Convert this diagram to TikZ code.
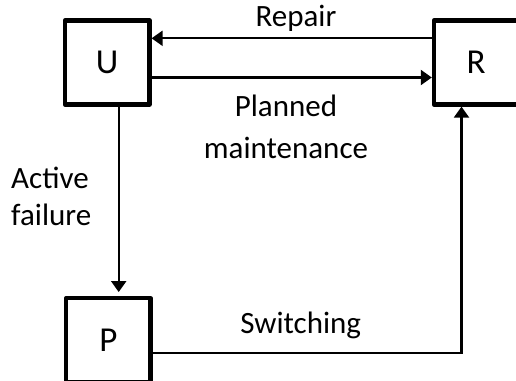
\documentclass[tikz,border=0pt]{standalone}
\usepackage{fontspec}
\setmainfont{Carlito}
\usetikzlibrary{arrows.meta}
\begin{document}
\begin{tikzpicture}[x=1bp,y=1bp,
  state/.style={draw, line width=4.3bp, minimum width=84.5bp, minimum height=84bp,
    inner sep=0pt, line join=round, font=\fontsize{35bp}{42bp}\selectfont},
  link/.style={line width=2.2bp, -{Triangle[length=11bp,width=15bp]}},
  lbl/.style={inner sep=0pt, font=\fontsize{31bp}{37bp}\selectfont}]
\useasboundingbox (0,0) rectangle (516,380);
% states
\node[state] (U) at (107.2,317.5) {U};
\node[state] (R) at (476.2,317.5) {R};
\node[state] (P) at (108.3,39.8) {P};
% transitions
\draw[link] ([yshift=24.2bp]R.west) -- ([yshift=24.2bp]U.east);
\draw[link] ([yshift=-15bp]U.east) -- ([yshift=-15bp]R.west);
\draw[link, shorten >=4bp] ([xshift=11.5bp]U.south) -- ([xshift=11.5bp]U.south |- P.north);
\draw[link] ([yshift=-13.1bp]P.east) -| ([xshift=-14.7bp]R.south);
% labels (base anchor of a two-line node sits on its last line)
\node[lbl, anchor=base] (rep) at (296,353.3) {Repair};
\node[lbl, anchor=base, align=center, font=\fontsize{31bp}{41.6bp}\selectfont] (pm) at (286,221.7) {Planned\\maintenance};
\node[lbl, anchor=base west, align=left, font=\fontsize{31bp}{36.7bp}\selectfont] (af) at (11,155) {Active\\failure};
\node[lbl, anchor=base] (sw) at (300.8,46.7) {Switching};
\end{tikzpicture}
\end{document}
